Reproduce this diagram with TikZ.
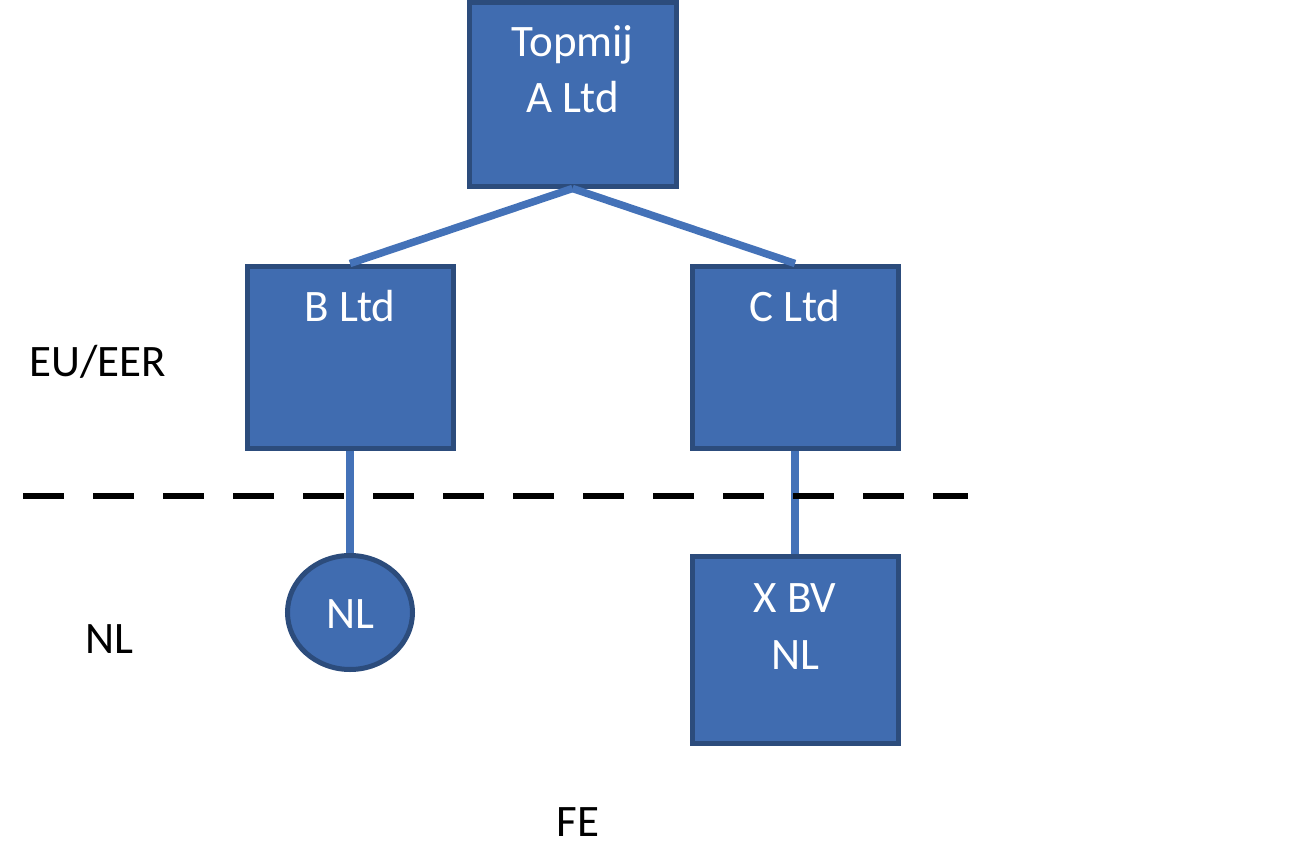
\documentclass[tikz,border=0pt]{standalone}
\usepackage{fontspec}
\setmainfont{Carlito}
\usetikzlibrary{shapes.geometric}
\definecolor{boxfill}{RGB}{64,108,176}
\definecolor{boxedge}{RGB}{44,76,124}
\definecolor{linkcol}{RGB}{68,114,184}
\begin{document}
\begin{tikzpicture}[x=1pt,y=-1pt,
  entity/.style={draw=boxedge,fill=boxfill,line width=5pt,rectangle,inner sep=0pt},
  oval/.style={draw=boxedge,fill=boxfill,line width=5pt,ellipse,inner sep=0pt,minimum width=125pt,minimum height=114pt},
  boxtext/.style={anchor=base,text=white,font=\fontsize{45}{54}\selectfont,inner sep=0pt},
  sidetext/.style={anchor=base,text=black,font=\fontsize{45}{54}\selectfont,inner sep=0pt},
  link/.style={draw=linkcol,line width=7.5pt}]
\useasboundingbox (0,0) rectangle (1299,843);
% boxes
\node[entity,minimum width=207pt,minimum height=183.5pt] (top) at (572.5,94.25) {};
\node[entity,minimum width=206pt,minimum height=182pt] (b) at (350,357) {};
\node[entity,minimum width=206pt,minimum height=182pt] (c) at (795,357) {};
\node[entity,minimum width=206pt,minimum height=187pt] (x) at (795,649.5) {};
\node[oval] (nl) at (350,612.5) {};
% connectors
\draw[link] (top.south) -- (b.north);
\draw[link] (top.south) -- (c.north);
\draw[link] (b.south) -- (nl.north);
\draw[link] (c.south) -- (x.north);
% dashed border
\coordinate (dl) at (23,496);
\coordinate (dr) at (968,496);
\draw[black,line width=5.5pt,dash pattern=on 41pt off 29pt] (dl) -- (dr);
% texts
\node[boxtext] (t1) at (572.5,57) {Topmij};
\node[boxtext] (t2) at (572.5,113) {A Ltd};
\node[boxtext] (tb) at (350,321) {B Ltd};
\node[boxtext] (tc) at (795,321) {C Ltd};
\node[boxtext] (tx1) at (795,612) {X BV};
\node[boxtext] (tx2) at (795,669) {NL};
\node[boxtext] (tnl) at (350,628) {NL};
\node[sidetext] (eu) at (98,376) {EU/EER};
\node[sidetext] (nlside) at (109,653) {NL};
\node[sidetext] (fe) at (578,836) {FE};
\end{tikzpicture}
\end{document}
